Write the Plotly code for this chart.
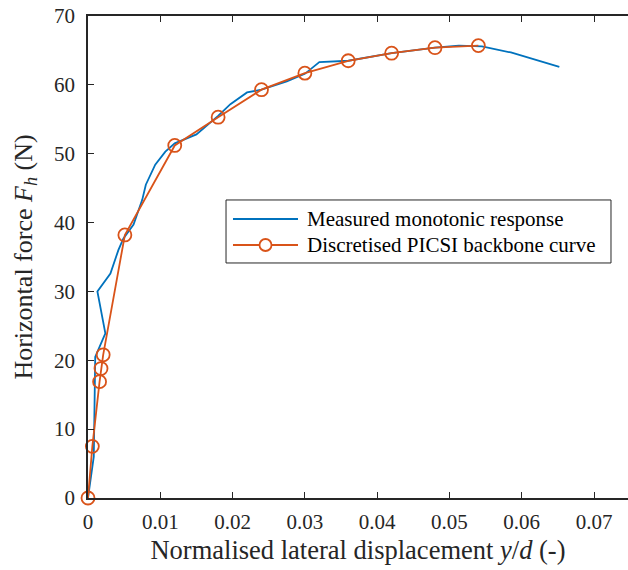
import plotly.graph_objects as go

# Measured monotonic response
meas_x = [0, 0.0008, 0.001, 0.0024, 0.0013, 0.0031, 0.0042, 0.0049, 0.0063, 0.0075,
          0.008, 0.0093, 0.0107, 0.012, 0.015, 0.018, 0.0197, 0.022, 0.024, 0.0275,
          0.030, 0.032, 0.036, 0.042, 0.048, 0.0513, 0.0545, 0.0585, 0.0652]
meas_y = [0, 6.0, 20.5, 23.9, 30.0, 32.6, 36.0, 37.7, 39.7, 43.3,
          45.5, 48.4, 50.3, 51.5, 52.8, 55.5, 57.2, 58.9, 59.3, 60.5,
          61.6, 63.3, 63.5, 64.6, 65.4, 65.7, 65.6, 64.7, 62.6]

# Discretised PICSI backbone curve
bb_x = [0, 0.0006, 0.0016, 0.0018, 0.0021, 0.0051, 0.012, 0.018, 0.024,
        0.030, 0.036, 0.042, 0.048, 0.054]
bb_y = [0, 7.5, 16.9, 18.8, 20.8, 38.2, 51.2, 55.3, 59.3,
        61.7, 63.5, 64.6, 65.4, 65.7]

x_ticks = [0, 0.01, 0.02, 0.03, 0.04, 0.05, 0.06, 0.07]
x_tick_labels = ["0", "0.01", "0.02", "0.03", "0.04", "0.05", "0.06", "0.07"]
y_ticks = [0, 10, 20, 30, 40, 50, 60, 70]

series_names = ["Measured monotonic response", "Discretised PICSI backbone curve"]
BLUE, ORANGE = "#0072BD", "#D95319"
FONT = "Liberation Serif, Times New Roman, serif"
TXT = "#262626"

fig = go.Figure()
fig.add_trace(go.Scatter(
    x=meas_x, y=meas_y, mode="lines", name=series_names[0],
    line=dict(color=BLUE, width=1.8), cliponaxis=False))
fig.add_trace(go.Scatter(
    x=bb_x, y=bb_y, mode="lines+markers", name=series_names[1],
    line=dict(color=ORANGE, width=1.8),
    marker=dict(symbol="circle-open", size=13, color=ORANGE, line=dict(width=1.8)),
    cliponaxis=False))

# Manual legend (box, samples, labels) in paper coordinates
lx0, lx1, ly0, ly1 = 0.2556, 0.9685, 0.4876, 0.6183
rows_y = [0.5788, 0.5249]
samp_x0, samp_x1, txt_x = 0.2685, 0.3889, 0.4019
shapes = [dict(type="rect", xref="paper", yref="paper", x0=lx0, x1=lx1, y0=ly0, y1=ly1,
               line=dict(color=TXT, width=1), fillcolor="white", layer="above")]
annotations = []
for name, col, ry, mk in zip(series_names, [BLUE, ORANGE], rows_y, [False, True]):
    shapes.append(dict(type="line", xref="paper", yref="paper", x0=samp_x0, x1=samp_x1,
                       y0=ry, y1=ry, line=dict(color=col, width=1.8), layer="above"))
    if mk:
        xc = (samp_x0 + samp_x1) / 2
        shapes.append(dict(type="circle", xref="paper", yref="paper",
                           xsizemode="pixel", ysizemode="pixel", xanchor=xc, yanchor=ry,
                           x0=-6, x1=6, y0=-6, y1=6, fillcolor="white",
                           line=dict(color=col, width=1.8), layer="above"))
    annotations.append(dict(text=name, xref="paper", yref="paper", x=txt_x, y=ry,
                            xanchor="left", yanchor="middle", showarrow=False,
                            font=dict(family=FONT, size=21, color="#000000")))

fig.update_layout(
    width=628, height=570,
    margin=dict(l=88, r=0, t=16, b=72),
    plot_bgcolor="white", paper_bgcolor="white",
    font=dict(family=FONT, size=21, color=TXT),
    showlegend=False,
    shapes=shapes, annotations=annotations,
    xaxis=dict(
        range=[0, 0.0747], tickvals=x_ticks, ticktext=x_tick_labels,
        ticks="inside", ticklen=6, tickwidth=1, tickcolor=TXT,
        showline=True, linecolor=TXT, linewidth=1.5, mirror="ticks",
        showgrid=False, zeroline=False, ticklabelstandoff=4,
        tickfont=dict(family=FONT, size=21, color=TXT),
        title=dict(text="Normalised lateral displacement <i>y</i>/<i>d</i> (-)",
                   font=dict(family=FONT, size=26.5, color=TXT), standoff=7),
    ),
    yaxis=dict(
        range=[0, 70], tickvals=y_ticks,
        ticks="inside", ticklen=6, tickwidth=1, tickcolor=TXT,
        showline=True, linecolor=TXT, linewidth=1.5, mirror=False,
        showgrid=False, zeroline=False, ticklabelstandoff=7,
        tickfont=dict(family=FONT, size=21, color=TXT),
        title=dict(text="Horizontal force <i>F</i><sub><i>h</i></sub> (N)",
                   font=dict(family=FONT, size=26, color=TXT), standoff=14),
    ),
)

fig.write_html("out.html")
